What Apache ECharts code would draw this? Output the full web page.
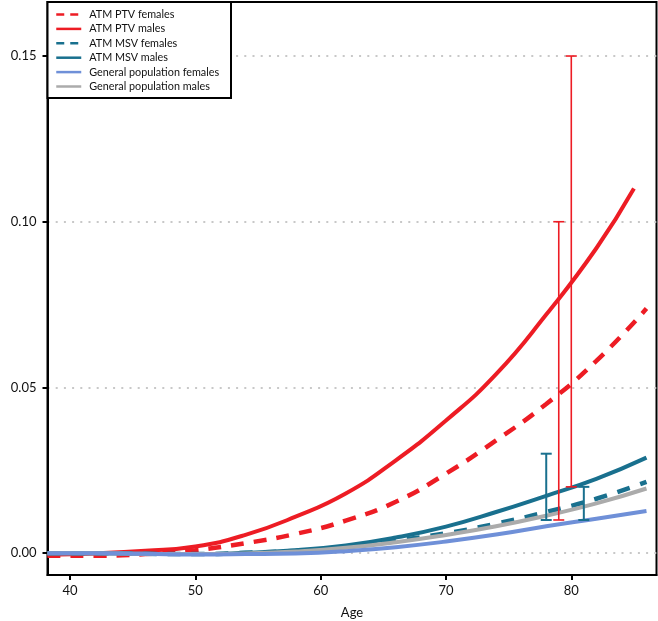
<!DOCTYPE html>
<html>
<head>
<meta charset="utf-8">
<script src="https://cdn.jsdelivr.net/npm/echarts@6/dist/echarts.min.js"></script>
<style>
html,body{margin:0;padding:0;background:#fff;}
#chart{width:658px;height:621px;}
</style>
</head>
<body>
<div id="chart"></div>
<script>
// Ages at which the cumulative risk curves are sampled
const ages         = [38.2, 42, 46, 50, 54, 58, 62, 66, 70, 74, 78, 82, 86];
const agesPtvMales = [38.2, 42, 46, 50, 54, 58, 62, 66, 70, 74, 78, 82, 85];
// Curve values (cumulative risk)
const ptvFemales = [-0.0008, -0.0008, -0.0003, 0.0009, 0.0030, 0.0058, 0.0098, 0.0155, 0.0240, 0.0340, 0.0450, 0.0580, 0.0738];
const ptvMales   = [-0.0005, -0.0001, 0.0007, 0.0020, 0.0055, 0.0110, 0.0180, 0.0280, 0.0400, 0.0540, 0.0720, 0.0920, 0.1100];
const msvFemales = [0.0000, 0.0000, -0.0002, -0.0003, 0.0001, 0.0007, 0.0019, 0.0038, 0.0060, 0.0089, 0.0124, 0.0164, 0.0215];
const msvMales   = [0.0000, 0.0000, -0.0002, -0.0003, 0.0001, 0.0009, 0.0023, 0.0047, 0.0080, 0.0124, 0.0173, 0.0224, 0.0288];
const genFemales = [0.0000, 0.0000, -0.0002, -0.0004, -0.0003, -0.0001, 0.0006, 0.0018, 0.0035, 0.0056, 0.0081, 0.0104, 0.0127];
const genMales   = [0.0000, 0.0000, -0.0002, -0.0003, -0.0001, 0.0005, 0.0016, 0.0033, 0.0055, 0.0081, 0.0113, 0.0150, 0.0195];

// Error bars
const errAges  = [78, 79, 80, 81];
const errLow   = [0.01, 0.01, 0.02, 0.01];
const errHigh  = [0.03, 0.10, 0.15, 0.02];
const errGroup = ['msv', 'ptv', 'ptv', 'msv'];

// Axis ticks
const xTicks = [40, 50, 60, 70, 80];
const yTicks = [0, 0.05, 0.10, 0.15];

const seriesNames = ['ATM PTV females', 'ATM PTV males', 'ATM MSV females', 'ATM MSV males', 'General population females', 'General population males'];

const RED = '#ED1C24', TEAL = '#19708E', LBLUE = '#6F90D8', GREY = '#ABABAB';
const FONT = 'Lato';

function pairs(xs, vals) {
  return xs.map((a, i) => [a, vals[i]]);
}

function lineSeries(name, xs, vals, color, dashed, dash, z) {
  return {
    name: name, type: 'line', data: pairs(xs, vals), smooth: 0.5, symbol: 'none', z: z,
    lineStyle: { color: color, width: dashed ? 4.5 : 4, type: dashed ? dash : 'solid', cap: 'butt' },
    itemStyle: { color: color },
    emphasis: { disabled: true }, animation: false
  };
}

const errData = errAges.map((a, i) => [a, errLow[i], errHigh[i], errGroup[i] === 'ptv' ? 1 : 0]);

const hideSym = { opacity: 0 };

const chart = echarts.init(document.getElementById('chart'), null, { renderer: 'canvas' });
chart.setOption({
  animation: false,
  backgroundColor: '#fff',
  grid: { left: 47.5, right: 1.5, top: 2, bottom: 46, show: true, borderColor: '#000', borderWidth: 2,
    containLabel: false, outerBoundsMode: 'none' },
  xAxis: {
    type: 'value', min: 38.2, max: 86.8,
    name: 'Age', nameLocation: 'middle', nameGap: 31,
    nameTextStyle: { fontFamily: FONT, fontSize: 13, color: '#111' },
    axisLine: { show: true, onZero: false, lineStyle: { color: '#000', width: 2 } },
    axisTick: { show: true, length: 5, lineStyle: { color: '#000', width: 2 }, customValues: xTicks },
    axisLabel: { fontFamily: FONT, fontSize: 13, color: '#111', margin: 9, customValues: xTicks },
    splitLine: { show: false }
  },
  yAxis: {
    type: 'value', min: -0.0066, max: 0.1663,
    name: 'Cumulative Risk', nameLocation: 'middle', nameGap: 33,
    nameTextStyle: { fontFamily: FONT, fontSize: 13, color: '#111' },
    axisLine: { show: true, onZero: false, lineStyle: { color: '#000', width: 2 } },
    axisTick: { show: true, length: 5, lineStyle: { color: '#000', width: 2 }, customValues: yTicks },
    axisLabel: { fontFamily: FONT, fontSize: 13, color: '#111', margin: 11, customValues: yTicks,
      formatter: v => v.toFixed(2) },
    splitLine: { show: true, lineStyle: { color: '#C8C8C8', width: 2, type: [2, 6.2] } }
  },
  legend: {
    orient: 'vertical', left: 55, top: 9, z: 200, padding: 0,
    itemWidth: 25, itemHeight: 12, itemGap: 3.4,
    textStyle: { fontFamily: FONT, fontSize: 10.8, color: '#111', padding: [0, 0, 0, 3] },
    data: [
      { name: seriesNames[0], itemStyle: hideSym, lineStyle: { width: 2.5, type: [8, 6] } },
      { name: seriesNames[1], itemStyle: hideSym, lineStyle: { width: 2.5 } },
      { name: seriesNames[2], itemStyle: hideSym, lineStyle: { width: 2.5, type: [8, 6] } },
      { name: seriesNames[3], itemStyle: hideSym, lineStyle: { width: 2.5 } },
      { name: seriesNames[4], itemStyle: hideSym, lineStyle: { width: 2.5 } },
      { name: seriesNames[5], itemStyle: hideSym, lineStyle: { width: 2.5 } }
    ],
    selectedMode: false
  },
  graphic: {
    elements: [{
      type: 'rect', z: 150, silent: true,
      shape: { x: 47.5, y: 2, width: 183.5, height: 96 },
      style: { fill: '#fff', stroke: '#000', lineWidth: 2 }
    }]
  },
  series: [
    lineSeries(seriesNames[0], ages, ptvFemales, RED, true, [13, 10], 2),
    lineSeries(seriesNames[1], agesPtvMales, ptvMales, RED, false, null, 2),
    lineSeries(seriesNames[2], ages, msvFemales, TEAL, true, [13, 11], 3),
    lineSeries(seriesNames[3], ages, msvMales, TEAL, false, null, 3),
    lineSeries(seriesNames[5], ages, genMales, GREY, false, null, 3),
    lineSeries(seriesNames[4], ages, genFemales, LBLUE, false, null, 4),
    {
      type: 'custom', z: 10, animation: false, silent: true,
      data: errData,
      renderItem: function (params, api) {
        const x = api.value(0);
        const lo = api.coord([x, api.value(1)]);
        const hi = api.coord([x, api.value(2)]);
        const isPtv = api.value(3) === 1;
        const color = isPtv ? RED : TEAL;
        const w = isPtv ? 1.6 : 2;
        const hw = 5.5;
        const st = { stroke: color, lineWidth: w };
        return {
          type: 'group',
          children: [
            { type: 'line', shape: { x1: lo[0], y1: lo[1], x2: hi[0], y2: hi[1] }, style: st },
            { type: 'line', shape: { x1: lo[0] - hw, y1: lo[1], x2: lo[0] + hw, y2: lo[1] }, style: st },
            { type: 'line', shape: { x1: hi[0] - hw, y1: hi[1], x2: hi[0] + hw, y2: hi[1] }, style: st }
          ]
        };
      }
    }
  ]
});
</script>
</body>
</html>
